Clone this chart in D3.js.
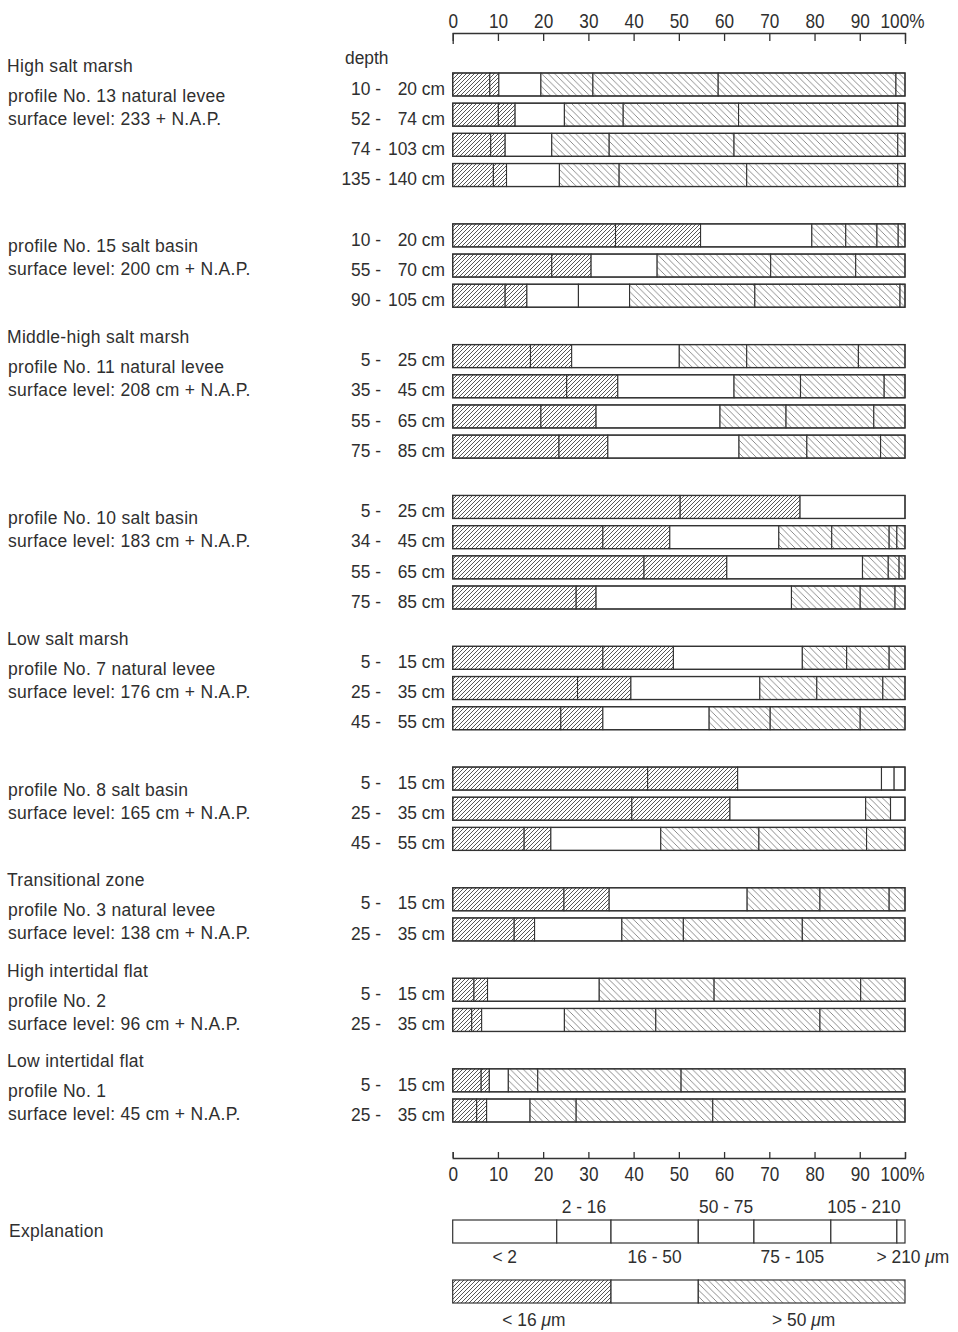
<!DOCTYPE html>
<html>
<head>
<meta charset="utf-8">
<script src="https://cdn.jsdelivr.net/npm/d3@7"></script>
<style>
  body { margin: 0; background: #fff; }
  svg text { font-family: "Liberation Sans", Arial, sans-serif; fill: #2f2f2f; }
</style>
</head>
<body>
<svg id="chart" width="958" height="1332"></svg>
<script>
// Grain-size classes (µm), finest to coarsest
const sizeClasses = ["< 2", "2 - 16", "16 - 50", "50 - 75", "75 - 105", "105 - 210", "> 210"];

// Percentage scale ticks
const tickValues = [0, 10, 20, 30, 40, 50, 60, 70, 80, 90, 100];
const tickLabels = ["0", "10", "20", "30", "40", "50", "60", "70", "80", "90", "100%"];

// Marsh / flat zones and the first profile belonging to each
const zoneNames = ["High salt marsh", "Middle-high salt marsh", "Low salt marsh",
                   "Transitional zone", "High intertidal flat", "Low intertidal flat"];
const zoneFirstProfile = [0, 2, 4, 6, 7, 8];

const profileNames = [
  "profile No. 13 natural levee", "profile No. 15 salt basin",
  "profile No. 11 natural levee", "profile No. 10 salt basin",
  "profile No. 7 natural levee", "profile No. 8 salt basin",
  "profile No. 3 natural levee", "profile No. 2", "profile No. 1"
];
const surfaceLevels = [
  "surface level: 233 + N.A.P.", "surface level: 200 cm + N.A.P.",
  "surface level: 208 cm + N.A.P.", "surface level: 183 cm + N.A.P.",
  "surface level: 176 cm + N.A.P.", "surface level: 165 cm + N.A.P.",
  "surface level: 138 cm + N.A.P.", "surface level: 96 cm + N.A.P.",
  "surface level: 45 cm + N.A.P."
];

// Sample depths (cm) per profile
const depthRanges = [
  [[10, 20], [52, 74], [74, 103], [135, 140]],
  [[10, 20], [55, 70], [90, 105]],
  [[5, 25], [35, 45], [55, 65], [75, 85]],
  [[5, 25], [34, 45], [55, 65], [75, 85]],
  [[5, 15], [25, 35], [45, 55]],
  [[5, 15], [25, 35], [45, 55]],
  [[5, 15], [25, 35]],
  [[5, 15], [25, 35]],
  [[5, 15], [25, 35]]
];

// Weight percentages per size class for each sample
const profile13 = [
  [8.2, 2.0, 9.3, 11.5, 27.7, 39.3, 2.0],
  [10.1, 3.7, 10.9, 13.0, 25.5, 35.2, 1.6],
  [8.4, 3.2, 10.3, 12.7, 27.6, 36.2, 1.6],
  [9.0, 2.9, 11.7, 13.2, 28.2, 33.4, 1.6]
];
const profile15 = [
  [36.0, 18.8, 24.6, 7.5, 6.9, 4.7, 1.5],
  [21.9, 8.7, 14.6, 25.1, 18.8, 10.9, 0],
  [11.6, 4.8, 11.4, 11.3, 27.7, 32.1, 1.1]
];
const profile11 = [
  [17.2, 9.1, 23.8, 14.9, 24.7, 10.3, 0],
  [25.2, 11.3, 25.7, 14.7, 18.5, 4.6, 0],
  [19.5, 12.2, 27.4, 14.6, 19.4, 6.9, 0],
  [23.5, 10.8, 29.0, 15.0, 16.3, 5.4, 0]
];
const profile10 = [
  [50.3, 26.5, 23.2, 0, 0, 0, 0],
  [33.2, 14.8, 24.1, 11.7, 12.7, 1.7, 1.8],
  [42.3, 18.3, 30.0, 5.7, 2.4, 1.3, 0],
  [27.3, 4.4, 43.2, 15.2, 7.7, 2.2, 0]
];
const profile7 = [
  [33.2, 15.6, 28.5, 9.8, 9.4, 3.5, 0],
  [27.6, 11.8, 28.5, 12.6, 14.6, 4.9, 0],
  [23.9, 9.3, 23.5, 13.5, 19.9, 9.9, 0]
];
const profile8 = [
  [43.1, 19.9, 31.8, 2.8, 2.4, 0, 0],
  [39.6, 21.7, 30.0, 5.5, 3.2, 0, 0],
  [15.8, 5.9, 24.3, 21.7, 23.8, 8.5, 0]
];
const profile3 = [
  [24.6, 10.0, 30.5, 16.1, 15.3, 3.5, 0],
  [13.6, 4.5, 19.3, 13.6, 26.3, 22.7, 0]
];
const profile2 = [
  [4.7, 3.0, 24.7, 25.4, 32.4, 9.8, 0],
  [4.2, 2.2, 18.3, 20.2, 36.3, 18.8, 0]
];
const profile1 = [
  [6.3, 1.8, 4.2, 6.5, 31.7, 49.5, 0],
  [5.3, 2.2, 9.6, 10.2, 30.2, 42.5, 0]
];
const profileFractions = [profile13, profile15, profile11, profile10, profile7,
                          profile8, profile3, profile2, profile1];

// Sand segments left unshaded in the figure: [profile, sample, class]
const openSegments = [[1, 2, 3], [5, 0, 3], [5, 0, 4], [5, 1, 4]];

// Explanation bar: class widths of the key
const exampleFractions = [23.0, 12.0, 19.3, 12.3, 17.0, 14.6, 1.8];
const groupLabels = ["< 16", "> 50"];

// ---------------------------------------------------------------
const svg = d3.select("#chart");
const ink = "#333";

const x = d3.scaleLinear().domain([0, 100]).range([452.7, 905]);
const barH = 23;

// Rows: one per sample, with an empty row between profiles
const rows = [];
let r = 0;
profileFractions.forEach((samples, pi) => {
  samples.forEach((vals, si) => {
    rows.push({ pi, si, row: r, vals, depth: depthRanges[pi][si] });
    r++;
  });
  r++;
});
const lastRow = r - 2;
const y = d3.scaleLinear().domain([0, lastRow]).range([73, 1099]);

// Hatch patterns
const defs = svg.append("defs");
function hatch(id, s, forward, color, w) {
  const p = defs.append("pattern")
    .attr("id", id).attr("patternUnits", "userSpaceOnUse")
    .attr("width", s).attr("height", s);
  p.append("rect").attr("width", s).attr("height", s).attr("fill", "#fff");
  const d = forward
    ? `M0,${s} L${s},0 M-1,1 L1,-1 M${s - 1},${s + 1} L${s + 1},${s - 1}`
    : `M0,0 L${s},${s} M-1,${s - 1} L1,${s + 1} M${s - 1},-1 L${s + 1},1`;
  p.append("path").attr("d", d).attr("stroke", color).attr("stroke-width", w);
}
hatch("fine", 4, true, "#444", 0.9);
hatch("sand", 6.5, false, "#808080", 0.9);

const classFill = i => i < 2 ? "url(#fine)" : i === 2 ? "#fff" : "url(#sand)";
const isOpen = (pi, si, k) => openSegments.some(o => o[0] === pi && o[1] === si && o[2] === k);

// Stack the classes of every sample
const keys = d3.range(sizeClasses.length);
const stack = d3.stack().keys(keys).value((d, k) => d.vals[k]);
const layers = stack(rows);

const barsG = svg.append("g");
layers.forEach(layer => {
  const k = layer.key;
  barsG.selectAll(null)
    .data(layer.filter(s => s[1] - s[0] > 0))
    .join("rect")
    .attr("x", s => x(s[0]))
    .attr("y", s => y(s.data.row))
    .attr("width", s => x(s[1]) - x(s[0]))
    .attr("height", barH)
    .attr("fill", s => isOpen(s.data.pi, s.data.si, k) ? "#fff" : classFill(k))
    .attr("stroke", ink)
    .attr("stroke-width", 1.1);
});
// Outline of each bar
barsG.selectAll(null).data(rows).join("rect")
  .attr("x", x(0)).attr("y", d => y(d.row))
  .attr("width", x(100) - x(0)).attr("height", barH)
  .attr("fill", "none").attr("stroke", ink).attr("stroke-width", 1.3);

// Condensed text: taller glyphs squeezed horizontally
function condensedText(g, tx, ty, str, anchor, sx) {
  return g.append("text")
    .attr("transform", `translate(${tx},${ty}) scale(${sx},1)`)
    .attr("text-anchor", anchor).attr("dominant-baseline", "central")
    .text(str);
}

// Depth labels
const depthG = svg.append("g").style("font-size", "18.5px");
rows.forEach(d => {
  const cy = y(d.row) + barH / 2 + 4;
  condensedText(depthG, 381, cy, `${d.depth[0]} -`, "end", 0.94);
  condensedText(depthG, 445, cy, `${d.depth[1]} cm`, "end", 0.94);
});
condensedText(depthG, 345, y(0) + barH / 2 - 27, "depth", "start", 0.94);

// Profile descriptions
const firstRow = profileFractions.map((_, pi) => rows.find(d => d.pi === pi).row);
const leftG = svg.append("g").style("font-size", "17.5px").style("letter-spacing", "0.3px");
profileNames.forEach((name, pi) => {
  const cy = y(firstRow[pi]) + barH / 2;
  leftG.append("text").attr("x", 8).attr("y", cy + 11)
    .attr("dominant-baseline", "central").text(name);
  leftG.append("text").attr("x", 8).attr("y", cy + 34)
    .attr("dominant-baseline", "central").text(surfaceLevels[pi]);
});
zoneNames.forEach((zone, zi) => {
  const cy = y(firstRow[zoneFirstProfile[zi]]) + barH / 2;
  leftG.append("text").attr("x", 7).attr("y", cy + 11 - 30)
    .attr("dominant-baseline", "central").text(zone);
});

// Percentage axes
const fmt = d => tickLabels[tickValues.indexOf(d)];
const topAxis = d3.axisTop(x).tickValues(tickValues).tickFormat(fmt)
  .tickSizeInner(-8).tickSizeOuter(-11).tickPadding(5);
const bottomAxis = d3.axisBottom(x).tickValues(tickValues).tickFormat(fmt)
  .tickSizeInner(-6).tickSizeOuter(-6).tickPadding(9);

function styleAxis(g) {
  g.attr("font-family", null).attr("font-size", null);
  g.select(".domain").attr("stroke", ink).attr("stroke-width", 1.3);
  g.selectAll(".tick line").attr("stroke", ink).attr("stroke-width", 1.3);
  g.selectAll(".tick text").attr("fill", "#2f2f2f")
    .style("font-size", "20px")
    .attr("transform", d => `translate(${d === 100 ? -3 : 0},0) scale(0.86,1)`);
}
svg.append("g").attr("transform", "translate(0,33)").call(topAxis).call(styleAxis);
svg.append("g").attr("transform", "translate(0,1158)").call(bottomAxis).call(styleAxis);

// Explanation
const keyG = svg.append("g").style("font-size", "18.5px");
keyG.append("text").attr("x", 9).attr("y", 1231)
  .style("font-size", "17.5px").style("letter-spacing", "0.3px")
  .attr("dominant-baseline", "central").text("Explanation");

const cum = [0, ...d3.cumsum(exampleFractions)];
const keyTop = 1220;
sizeClasses.forEach((label, i) => {
  keyG.append("rect")
    .attr("x", x(cum[i])).attr("y", keyTop)
    .attr("width", x(cum[i + 1]) - x(cum[i])).attr("height", barH)
    .attr("fill", "#fff").attr("stroke", ink).attr("stroke-width", 1.2);
  const above = i % 2 === 1;
  const last = i === sizeClasses.length - 1;
  const t = condensedText(keyG,
    x((cum[i] + cum[i + 1]) / 2) + (last ? 12 : 0),
    above ? keyTop - 13 : keyTop + barH + 14,
    label, "middle", 0.94);
  if (last) {
    t.append("tspan").text(" ");
    t.append("tspan").style("font-style", "italic").text("μ");
    t.append("tspan").text("m");
  }
});

// Fine / sand grouping bar
const groupTop = 1280;
const groups = [
  { from: 0, to: cum[2], fill: "url(#fine)", label: groupLabels[0] },
  { from: cum[2], to: cum[3], fill: "#fff", label: null },
  { from: cum[3], to: 100, fill: "url(#sand)", label: groupLabels[1] }
];
groups.forEach(g => {
  keyG.append("rect")
    .attr("x", x(g.from)).attr("y", groupTop)
    .attr("width", x(g.to) - x(g.from)).attr("height", barH)
    .attr("fill", g.fill).attr("stroke", ink).attr("stroke-width", 1.2);
  if (g.label) {
    const t = condensedText(keyG, x((g.from + g.to) / 2) + 2, groupTop + barH + 17,
      g.label + " ", "middle", 0.94);
    t.append("tspan").style("font-style", "italic").text("μ");
    t.append("tspan").text("m");
  }
});
</script>
</body>
</html>
